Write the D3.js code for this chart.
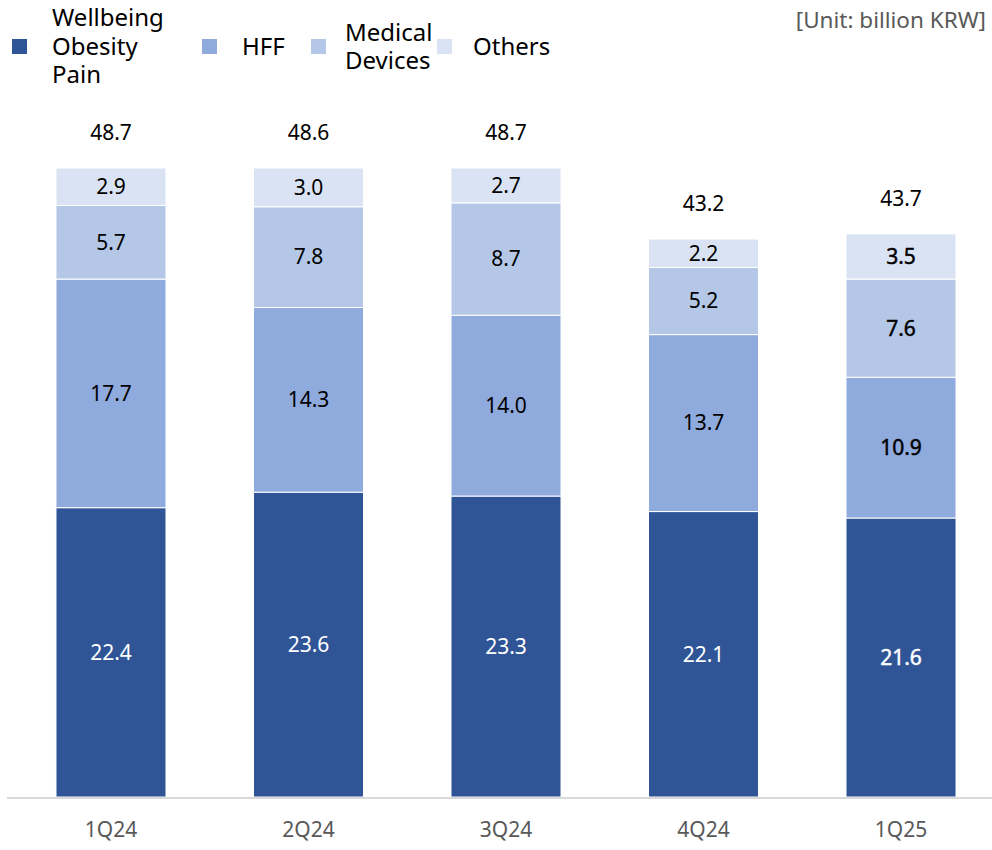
<!DOCTYPE html>
<html>
<head>
<meta charset="utf-8">
<script src="https://cdn.jsdelivr.net/npm/d3@7"></script>
<style>
  html, body { margin: 0; padding: 0; background: #fff; }
  svg text { font-family: "Noto Sans", "Noto Sans CJK KR", sans-serif; }
</style>
</head>
<body>
<svg id="chart" width="992" height="850"></svg>
<script>
// Quarterly revenue by business line (billion KRW)
const quarters = ["1Q24", "2Q24", "3Q24", "4Q24", "1Q25"];
const seriesNames = ["Wellbeing Obesity Pain", "HFF", "Medical Devices", "Others"];
const wellbeing = [22.4, 23.6, 23.3, 22.1, 21.6];
const hff = [17.7, 14.3, 14.0, 13.7, 10.9];
const medical = [5.7, 7.8, 8.7, 5.2, 7.6];
const others = [2.9, 3.0, 2.7, 2.2, 3.5];
const totals = [48.7, 48.6, 48.7, 43.2, 43.7];
const legendLines = [["Wellbeing", "Obesity", "Pain"], ["HFF"], ["Medical", "Devices"], ["Others"]];
const unitLabel = "[Unit: billion KRW]";

const colors = ["#2F5597", "#8FAADC", "#B4C7E7", "#DAE3F3"];
const labelColors = ["#ffffff", "#000000", "#000000", "#000000"];
const heavyLabel = [false, false, false, false, true];

const svg = d3.select("#chart");
const W = 992;
const baseline = 797;

const x = d3.scaleBand().domain(quarters).range([6.6, 1005.4]).paddingInner(0.443).paddingOuter(0.25);
const y = d3.scaleLinear().domain([0, 48.7]).range([baseline, 168]);

const rows = quarters.map((q, i) => ({
  q, wellbeing: wellbeing[i], hff: hff[i], medical: medical[i], others: others[i]
}));
const keys = ["wellbeing", "hff", "medical", "others"];
const stacked = d3.stack().keys(keys)(rows);

// Bars
const layers = svg.append("g").selectAll("g").data(stacked).join("g")
  .attr("fill", (d, i) => colors[i]);
layers.selectAll("rect").data(d => d).join("rect")
  .attr("x", d => x(d.data.q))
  .attr("width", x.bandwidth())
  .attr("y", d => y(d[1]))
  .attr("height", d => y(d[0]) - y(d[1]))
  .attr("stroke", "#ffffff")
  .attr("stroke-width", 1);

// Segment labels
stacked.forEach((layer, li) => {
  svg.append("g").selectAll("text").data(layer).join("text")
    .attr("x", d => x(d.data.q) + x.bandwidth() / 2)
    .attr("y", d => (y(d[0]) + y(d[1])) / 2)
    .attr("dy", "0.35em")
    .attr("text-anchor", "middle")
    .attr("font-size", 21)
    .attr("fill", labelColors[li])
    .attr("stroke", (d, i) => heavyLabel[i] ? labelColors[li] : "none")
    .attr("stroke-width", 0.45)
    .text(d => (d[1] - d[0]).toFixed(1));
});

// Totals above bars
svg.append("g").selectAll("text").data(rows).join("text")
  .attr("x", d => x(d.q) + x.bandwidth() / 2)
  .attr("y", d => y(d3.sum(keys, k => d[k])) - 35)
  .attr("dy", "0.35em")
  .attr("text-anchor", "middle")
  .attr("font-size", 21)
  .attr("fill", "#000")
  .text((d, i) => totals[i].toFixed(1));

// Category axis
const axis = svg.append("g").attr("transform", `translate(0,${baseline + 1})`)
  .call(d3.axisBottom(x).tickSize(0).tickPadding(24));
axis.select(".domain").attr("stroke", "#d9d9d9").attr("stroke-width", 2).attr("d", `M7,0H${W}`);
axis.selectAll("text")
  .attr("font-size", 21)
  .attr("fill", "#595959")
  .style("font-family", "'Noto Sans', sans-serif");

// Legend
const legendX = [[12, 52], [202, 242], [311, 345], [437, 473]];
const legendCenter = 46.5;
const lineH = 28.5;
legendLines.forEach((lines, i) => {
  const g = svg.append("g");
  g.append("rect")
    .attr("x", legendX[i][0]).attr("y", legendCenter - 7.5)
    .attr("width", 15).attr("height", 15)
    .attr("fill", colors[i]);
  const start = legendCenter - (lines.length - 1) * lineH / 2;
  lines.forEach((t, j) => {
    g.append("text")
      .attr("x", legendX[i][1]).attr("y", start + j * lineH)
      .attr("dy", "0.35em")
      .attr("font-size", 24)
      .attr("fill", "#000")
      .text(t);
  });
});

// Unit note
svg.append("text")
  .attr("x", 986).attr("y", 20).attr("dy", "0.35em")
  .attr("text-anchor", "end")
  .attr("font-size", 22.5)
  .attr("fill", "#595959")
  .text(unitLabel);
</script>
</body>
</html>
